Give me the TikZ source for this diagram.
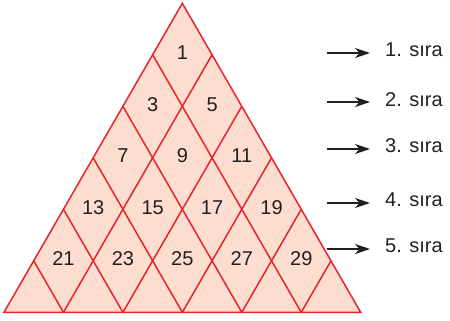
\documentclass[tikz,border=0pt]{standalone}
\usepackage{fontspec}
\setmainfont{Liberation Sans}
\usetikzlibrary{
    arrows.meta,
    calc
}

\definecolor{gridred}{RGB}{231,36,42}
\definecolor{cellfill}{RGB}{252,221,208}
\definecolor{inkblack}{RGB}{35,31,32}

\begin{document}
\begin{tikzpicture}[
    x=1pt, y=-1pt,
    grid line/.style={
        draw=gridred,
        line width=1.5pt
    },
    cell number/.style={
        font=\fontsize{20}{24}\selectfont,
        text=inkblack,
        inner sep=0pt
    },
    row label/.style={
        anchor=west,
        font=\fontsize{20}{24}\selectfont,
        text=inkblack,
        inner xsep=15pt,
        inner ysep=0pt
    },
    row arrow/.style={
        draw=inkblack,
        line width=1.4pt,
        -{Stealth[length=15pt, width=10pt, inset=4.5pt]}
    }
]
\useasboundingbox (0,0) rectangle (450,321);

% triangle corners
\coordinate (A) at (182.35,3.3);
\coordinate (L) at (4,312.3);
\coordinate (R) at (360.7,312.3);

\fill[cellfill] (A) -- (L) -- (R) -- cycle;

% rhombus grid
\foreach \i in {1,...,5} {
    \draw[grid line] ($(L)!\i/6!(R)$) -- ($(A)!\i/6!(R)$);
    \draw[grid line] ($(L)!\i/6!(R)$) -- ($(L)!\i/6!(A)$);
}
\draw[grid line] (A) -- (L) -- (R) -- cycle;

% odd numbers, row by row
\foreach \k in {1,...,5} {
    \foreach \m in {1,...,\k} {
        \pgfmathtruncatemacro{\num}{\k*(\k-1)+2*\m-1}
        \node[cell number] (n\k-\m) at ({182.35+(2*\m-\k-1)*29.725}, {1.3+51.5*\k}) {\num};
    }
}

% row labels
\foreach \k/\ty/\ay in {1/49.5/53, 2/100/102, 3/145.5/149, 4/200/203, 5/246/249} {
    \node[row label] (s\k) at (370,\ty) {\k. sıra};
    \coordinate (t\k) at (327,\ay);
    \draw[row arrow] (t\k) -- (t\k -| s\k.west);
}

\end{tikzpicture}
\end{document}
